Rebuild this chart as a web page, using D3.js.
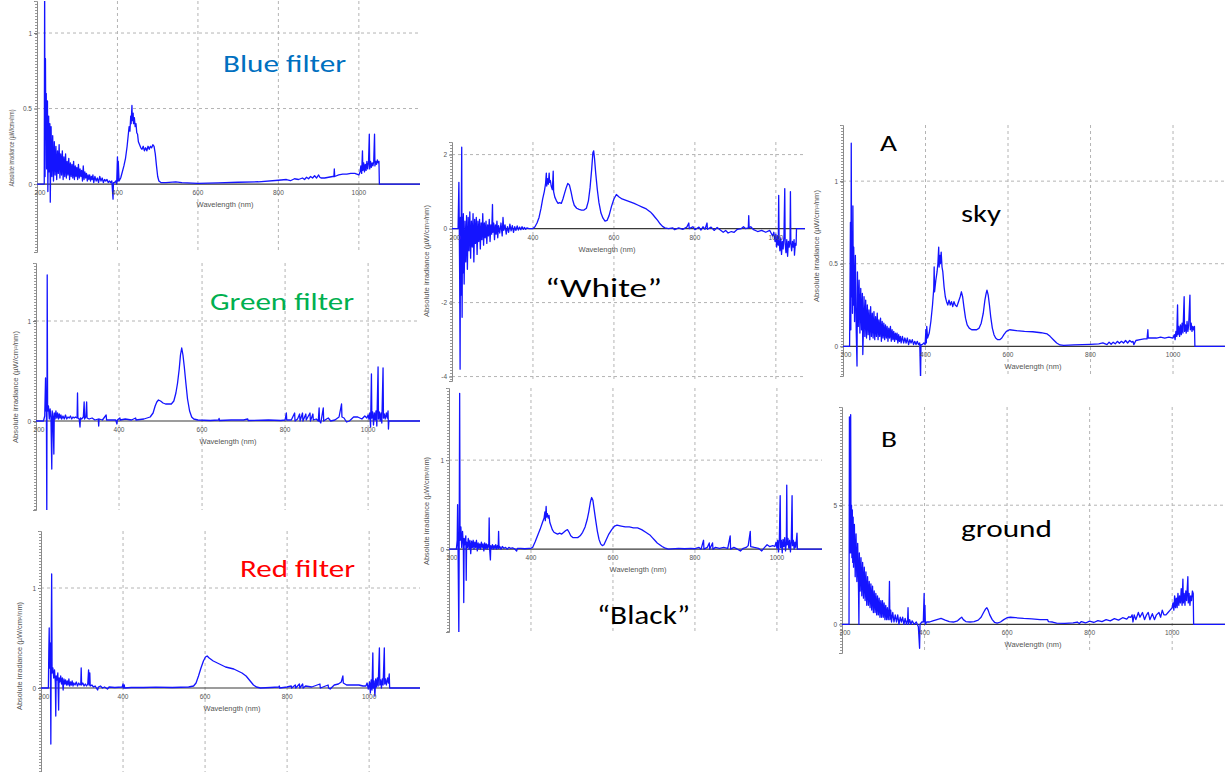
<!DOCTYPE html>
<html>
<head>
<meta charset="utf-8">
<script src="https://cdn.jsdelivr.net/npm/d3@7"></script>
<style>
html,body{margin:0;padding:0;background:#fff;}
svg{display:block;}
</style>
</head>
<body>
<script>
// ---------- DATA (wavelength nm, absolute irradiance) ----------
const blueFilter = [[200,0],[215,0],[218,0],[219,1.3],[220,0.05],[221,0.83],[222,0.3],[223,0.6],[224,0.1],[226,0.55],[227,-0.05],[229,0.45],[230,0.08],[232,0.4],[233,-0.12],[235,0.38],[237,0.05],[239,0.32],[241,0.02],[243,0.28],[245,0.06],[247,0.25],[249,0.03],[251,0.22],[253,0.07],[255,0.26],[257,0.04],[259,0.2],[261,0.06],[263,0.22],[265,0.03],[267,0.18],[269,0.05],[271,0.2],[273,0.04],[275,0.15],[277,0.06],[279,0.17],[281,0.03],[283,0.14],[285,0.05],[287,0.13],[289,0.04],[291,0.15],[293,0.03],[295,0.12],[297,0.05],[299,0.11],[301,0.03],[303,0.13],[305,0.04],[307,0.1],[309,0.05],[311,0.09],[313,0.02],[315,0.12],[317,0.03],[319,0.08],[321,0.04],[323,0.07],[325,0.02],[327,0.06],[329,0.03],[331,0.06],[333,0.02],[335,0.05],[337,0.03],[339,0.06],[341,0.01],[344,0.05],[347,0.02],[350,0.04],[353,0.01],[356,0.05],[359,0.02],[362,0.04],[365,0.01],[368,0.03],[371,0.02],[374,0.03],[377,0.01],[380,0.02],[383,0.01],[386,0.02],[389,-0.1],[390,0.01],[393,0.01],[396,0.02],[398,0.0],[400,0.18],[401,0.02],[402,0.15],[404,0.02],[408,0.04],[412,0.08],[416,0.12],[420,0.17],[424,0.25],[427,0.33],[429,0.38],[431,0.35],[433,0.45],[434,0.4],[436,0.52],[437,0.42],[439,0.47],[440,0.4],[442,0.44],[444,0.38],[446,0.4],[448,0.34],[450,0.33],[452,0.28],[455,0.26],[458,0.24],[461,0.23],[464,0.25],[467,0.22],[470,0.24],[473,0.22],[476,0.25],[479,0.23],[482,0.25],[485,0.24],[488,0.26],[491,0.25],[494,0.2],[497,0.12],[500,0.05],[503,0.02],[508,0.01],[520,0.01],[545,0.015],[560,0.01],[600,0.005],[650,0.008],[700,0.012],[750,0.015],[800,0.025],[820,0.03],[830,0.022],[840,0.035],[850,0.03],[860,0.04],[865,0.03],[870,0.045],[875,0.035],[880,0.05],[885,0.04],[890,0.055],[895,0.04],[900,0.06],[903,0.045],[906,0.04],[915,0.04],[925,0.045],[935,0.05],[938,0.05],[939,0.1],[940,0.05],[950,0.06],[960,0.065],[970,0.065],[980,0.07],[990,0.07],[1000,0.06],[1003,0.08],[1005,0.12],[1007,0.07],[1009,0.22],[1010,0.09],[1012,0.14],[1014,0.08],[1016,0.13],[1018,0.09],[1020,0.15],[1022,0.1],[1024,0.14],[1026,0.33],[1027,0.1],[1029,0.15],[1031,0.11],[1033,0.14],[1035,0.12],[1037,0.15],[1039,0.33],[1040,0.12],[1042,0.15],[1044,0.13],[1046,0.16],[1048,0.14],[1050,0.15],[1051,0],[1160,0]];

const greenFilter = [[200,0],[218,0],[221,0.05],[223,0.43],[224,0.1],[225,0.2],[226,-0.95],[227,1.46],[228,0.1],[230,0.15],[232,0.02],[234,0.12],[236,0.03],[238,-0.48],[239,0.1],[241,0.04],[243,-0.33],[244,0.08],[246,0.02],[248,0.1],[250,0.03],[252,0.08],[254,0.02],[256,0.07],[258,0.03],[260,0.06],[262,0.02],[265,0.05],[268,0.02],[271,0.06],[274,0.02],[277,0.04],[280,0.03],[283,0.05],[286,0.02],[289,0.04],[292,0.03],[295,0.04],[299,0.03],[300,0.28],[301,0.03],[304,0.02],[306,-0.06],[307,0.03],[310,0.02],[314,0.04],[316,0.19],[317,0.02],[320,0.04],[322,0.19],[323,0.03],[328,0.02],[335,0.03],[342,0.01],[350,0.02],[351,-0.05],[352,0.02],[360,0.01],[369,0.06],[370,0.01],[380,0.01],[392,0.01],[395,-0.03],[396,0.01],[402,0.03],[403,0.01],[415,0.02],[430,0.01],[440,0.03],[441,0.01],[460,0.02],[475,0.04],[482,0.08],[487,0.15],[491,0.19],[495,0.21],[500,0.2],[506,0.18],[512,0.17],[520,0.17],[526,0.17],[532,0.2],[537,0.28],[541,0.38],[545,0.52],[548,0.66],[551,0.73],[554,0.66],[557,0.55],[561,0.38],[565,0.22],[570,0.1],[575,0.04],[580,0.02],[590,0.01],[620,0.005],[640,0.01],[641,0.025],[642,0.005],[670,0.01],[700,0.01],[710,0.02],[711,0.005],[760,0.01],[790,0.005],[800,0.01],[803,0.08],[804,0.01],[815,0.01],[823,0.08],[824,0.0],[830,0.02],[835,0.07],[836,0.0],[842,0.08],[843,0.0],[850,0.07],[851,0.01],[860,0.08],[861,0.0],[867,0.07],[868,0.01],[875,0.02],[880,0.0],[882,0.13],[883,0.0],[886,-0.02],[892,0.13],[893,0.0],[900,0.02],[904,0.03],[910,0.0],[920,0.01],[930,0.04],[936,0.17],[937,0.04],[942,0.03],[948,-0.01],[955,0.0],[965,0.04],[975,0.04],[985,0.02],[992,0.05],[997,0.03],[1000,0.06],[1002,0.02],[1004,0.08],[1006,-0.06],[1008,0.47],[1009,0.03],[1011,0.09],[1013,-0.04],[1015,0.08],[1017,0.01],[1019,0.1],[1021,-0.05],[1024,0.54],[1025,0.02],[1027,0.09],[1029,0.0],[1031,0.08],[1033,-0.02],[1036,0.53],[1037,0.03],[1039,0.07],[1041,0.02],[1044,0.08],[1046,0.03],[1048,0.1],[1049,-0.08],[1050,0],[1130,0]];

const redFilter = [[200,0],[218,0],[219,0.35],[220,0.6],[221,0.2],[222,0.45],[223,0.25],[224,-0.56],[225,0.5],[226,1.14],[227,0.15],[229,0.2],[231,0.1],[233,0.18],[235,0.05],[236,-0.28],[237,0.12],[239,0.08],[241,0.15],[243,-0.22],[244,0.1],[246,0.06],[248,0.12],[250,0.04],[252,0.1],[254,-0.02],[256,0.09],[258,0.04],[260,0.08],[262,0.03],[264,0.07],[266,0.03],[268,0.09],[270,0.02],[272,0.06],[274,0.03],[276,0.07],[278,0.02],[280,0.05],[283,0.03],[286,0.06],[289,0.02],[292,0.05],[295,0.03],[297,0.04],[298,0.2],[299,0.03],[302,0.05],[305,0.02],[308,0.04],[311,0.02],[314,0.04],[316,0.18],[317,0.03],[319,0.15],[320,0.02],[324,0.03],[328,0.01],[332,0.02],[338,-0.02],[340,0.01],[345,0.02],[350,0.0],[355,0.01],[362,-0.01],[366,0.01],[380,0.005],[398,0.01],[400,0.04],[401,0.0],[403,0.03],[404,0.0],[420,0.005],[450,0.005],[480,0.008],[520,0.005],[560,0.01],[572,0.02],[578,0.05],[584,0.12],[590,0.2],[596,0.27],[601,0.31],[605,0.32],[610,0.3],[620,0.27],[630,0.25],[640,0.23],[650,0.21],[660,0.2],[670,0.19],[680,0.17],[690,0.15],[700,0.12],[706,0.09],[712,0.06],[718,0.03],[725,0.01],[735,0.0],[760,0.005],[780,0.01],[781,0.02],[782,0.0],[800,0.01],[810,0.02],[811,0.0],[820,0.03],[821,0.0],[830,0.04],[831,0.0],[838,0.04],[839,0.0],[845,0.02],[860,0.01],[880,0.04],[881,0.0],[900,0.03],[901,0.0],[905,-0.01],[915,0.03],[925,0.04],[932,0.06],[936,0.12],[937,0.05],[945,0.03],[960,0.03],[975,0.03],[985,0.02],[992,0.02],[995,0.05],[998,-0.01],[1001,0.06],[1003,-0.05],[1005,0.08],[1007,-0.02],[1009,0.35],[1010,0.0],[1012,0.07],[1014,-0.08],[1016,0.09],[1018,0.01],[1020,0.1],[1022,0.02],[1025,0.4],[1026,0.03],[1028,0.08],[1030,0.0],[1032,0.09],[1034,0.03],[1037,0.4],[1038,0.04],[1040,0.09],[1042,0.03],[1045,0.1],[1047,0.05],[1049,0.14],[1050,0],[1130,0]];

const whiteSample = [[200,0],[215,0],[217,1.25],[218,0.1],[219,-1.4],[220,-3.8],[221,0.3],[222,-1.8],[223,0.45],[224,2.2],[225,-2.4],[226,0.3],[227,-1.2],[228,0.4],[230,-1.5],[232,0.2],[234,-0.9],[236,0.35],[238,-1.1],[240,0.3],[242,-0.6],[244,0.45],[246,-0.8],[248,0.2],[250,-0.5],[252,0.4],[254,-0.9],[256,0.25],[258,-0.4],[260,0.3],[262,-0.7],[264,0.2],[266,-0.35],[268,0.25],[270,-0.55],[272,0.15],[274,-0.3],[276,0.4],[278,-0.45],[280,0.15],[282,-0.25],[284,0.2],[286,-0.4],[288,0.1],[290,-0.2],[292,0.25],[294,-0.35],[296,0.1],[298,-0.15],[300,0.65],[301,-0.1],[303,0.15],[305,-0.3],[307,0.1],[309,-0.15],[311,0.2],[313,-0.25],[315,0.08],[318,-0.12],[321,0.15],[324,-0.2],[326,0.3],[328,-0.05],[331,0.1],[334,-0.15],[337,0.05],[340,-0.1],[343,0.12],[346,-0.06],[349,0.08],[352,-0.1],[355,0.05],[358,-0.05],[361,0.07],[364,-0.04],[367,0.04],[370,-0.03],[373,0.05],[376,-0.02],[379,0.03],[382,-0.02],[385,0.02],[390,0.0],[400,0.0],[405,0.05],[410,0.15],[415,0.3],[420,0.55],[424,0.8],[428,1.0],[431,1.2],[433,1.5],[434,1.15],[436,1.35],[438,1.2],[440,1.5],[441,1.25],[443,1.3],[445,1.15],[448,1.05],[450,1.55],[451,1.0],[454,0.85],[458,0.75],[462,0.68],[466,0.7],[470,0.68],[474,0.8],[478,0.95],[482,1.1],[486,1.22],[490,1.18],[494,1.0],[498,0.78],[502,0.63],[508,0.55],[514,0.52],[520,0.5],[526,0.5],[532,0.55],[537,0.75],[541,1.1],[545,1.6],[548,2.05],[550,2.1],[552,1.9],[555,1.5],[559,1.05],[563,0.7],[568,0.42],[573,0.28],[578,0.2],[583,0.22],[588,0.35],[594,0.6],[600,0.8],[606,0.92],[612,0.86],[620,0.8],[630,0.76],[640,0.72],[650,0.68],[660,0.63],[670,0.58],[680,0.53],[690,0.45],[696,0.38],[702,0.3],[708,0.22],[714,0.13],[720,0.06],[726,0.02],[735,0.0],[745,0.02],[750,-0.03],[760,0.02],[770,-0.02],[780,0.04],[785,0.15],[786,0.0],[795,0.05],[800,-0.03],[810,0.04],[815,-0.04],[820,0.05],[825,-0.02],[830,0.15],[831,-0.02],[840,0.04],[848,-0.05],[855,0.03],[862,-0.03],[870,-0.1],[876,-0.05],[882,-0.12],[890,-0.08],[897,-0.1],[905,-0.02],[915,0.0],[920,0.05],[925,0.0],[932,0.02],[933,0.35],[934,0.02],[938,0.05],[945,-0.03],[955,-0.08],[965,-0.05],[975,-0.1],[985,-0.05],[992,-0.2],[995,-0.1],[998,-0.35],[1000,-0.15],[1002,-0.5],[1004,-0.2],[1006,-0.45],[1007,0.9],[1008,-0.3],[1010,-0.6],[1012,-0.25],[1014,-0.7],[1016,-0.35],[1018,-0.55],[1020,-0.2],[1022,1.08],[1023,-0.4],[1025,-0.65],[1027,-0.3],[1029,-0.75],[1031,-0.35],[1033,-0.5],[1035,-0.3],[1036,1.0],[1037,-0.4],[1039,-0.6],[1041,-0.35],[1043,-0.5],[1045,-0.3],[1046,-0.72],[1048,-0.4],[1050,-0.45],[1051,0],[1080,0]];

const blackSample = [[200,0],[218,0],[220,0.1],[221,0.5],[222,0.05],[224,-0.95],[225,0.3],[226,1.75],[227,0.1],[229,0.25],[231,0.02],[233,0.2],[235,0.05],[236,-0.6],[237,0.12],[239,0.05],[241,0.15],[242,-0.35],[243,0.08],[245,0.02],[247,0.12],[249,0.0],[251,0.1],[253,-0.05],[255,0.09],[257,0.02],[259,0.1],[261,0.0],[263,0.08],[265,0.02],[267,0.1],[269,-0.02],[271,0.07],[273,0.01],[275,0.06],[277,0.0],[279,0.08],[281,0.02],[283,0.06],[285,-0.02],[287,0.07],[289,0.01],[291,0.06],[293,0.0],[295,0.05],[297,0.02],[298,0.35],[299,0.01],[301,-0.12],[302,0.04],[304,0.01],[306,0.05],[308,0.0],[310,0.04],[312,0.01],[314,0.05],[316,0.0],[318,0.04],[320,0.01],[321,0.2],[322,0.01],[324,0.03],[327,0.0],[330,0.03],[334,0.01],[338,0.02],[342,0.0],[346,0.02],[350,0.01],[355,0.015],[360,0.005],[365,-0.02],[367,0.01],[375,0.01],[385,0.005],[395,0.01],[400,0.01],[404,0.02],[410,0.08],[416,0.15],[422,0.22],[428,0.3],[432,0.35],[434,0.42],[435,0.32],[437,0.48],[438,0.36],[440,0.4],[442,0.35],[444,0.38],[446,0.3],[449,0.26],[452,0.22],[456,0.19],[460,0.18],[465,0.17],[470,0.18],[475,0.17],[480,0.19],[485,0.21],[489,0.22],[493,0.19],[497,0.15],[502,0.13],[508,0.13],[514,0.13],[520,0.15],[526,0.19],[532,0.25],[537,0.33],[541,0.42],[545,0.53],[548,0.58],[551,0.55],[554,0.45],[558,0.32],[562,0.2],[566,0.11],[570,0.06],[574,0.04],[578,0.05],[583,0.1],[590,0.17],[597,0.22],[604,0.26],[610,0.27],[620,0.26],[630,0.25],[640,0.25],[650,0.24],[660,0.24],[670,0.22],[680,0.19],[690,0.16],[696,0.13],[702,0.1],[708,0.07],[714,0.05],[720,0.03],[726,0.015],[735,0.0],[760,0.01],[775,0.005],[790,0.01],[800,0.005],[810,0.02],[815,0.0],[821,0.1],[822,0.0],[830,0.02],[835,0.07],[836,0.0],[843,0.07],[844,0.0],[850,0.02],[860,0.01],[870,0.02],[880,0.01],[886,0.15],[887,0.0],[895,0.02],[900,0.01],[911,-0.02],[918,0.01],[925,0.02],[930,0.04],[935,0.2],[936,0.03],[945,0.02],[955,0.01],[963,-0.02],[970,0.02],[976,0.05],[982,0.03],[990,0.04],[995,0.03],[998,0.08],[1000,0.01],[1002,0.1],[1004,-0.03],[1006,0.12],[1008,0.6],[1009,0.02],[1011,0.1],[1013,-0.04],[1015,0.11],[1017,0.03],[1019,0.13],[1021,-0.02],[1023,0.08],[1024,0.72],[1025,0.05],[1027,0.12],[1029,0.01],[1031,0.1],[1033,-0.03],[1035,0.09],[1037,0.6],[1038,0.04],[1040,0.1],[1042,0.0],[1044,0.08],[1046,0.02],[1049,0.18],[1050,0],[1110,0]];

const skyA = [[200,0],[216,0],[218,0.75],[219,0.1],[220,1.23],[221,0.3],[222,0.65],[223,0.2],[224,0.85],[225,0.25],[226,0.6],[228,0.15],[230,0.55],[232,0.1],[234,-0.12],[235,0.45],[237,0.12],[239,0.4],[241,0.08],[243,0.35],[245,0.1],[247,0.32],[248,-0.05],[249,0.05],[251,0.3],[253,0.06],[255,0.28],[257,0.05],[259,0.25],[261,0.07],[263,0.22],[265,0.04],[267,0.24],[269,0.06],[271,0.2],[273,0.05],[275,0.21],[277,0.04],[279,0.18],[281,0.06],[283,0.2],[285,0.04],[287,0.16],[289,0.06],[291,0.17],[293,0.03],[295,0.15],[297,0.05],[299,0.14],[301,0.04],[303,0.13],[305,0.05],[307,0.12],[309,0.03],[311,0.11],[313,0.05],[315,0.12],[317,0.03],[319,0.1],[321,0.04],[323,0.09],[325,0.03],[327,0.08],[329,0.04],[331,0.08],[333,0.02],[335,0.07],[337,0.03],[339,0.06],[341,0.02],[344,0.06],[347,0.02],[350,0.05],[353,0.02],[356,0.05],[359,0.01],[362,0.04],[365,0.02],[368,0.04],[371,0.01],[374,0.03],[377,0.01],[380,0.03],[383,0.01],[386,0.02],[388,-0.2],[389,0.01],[392,0.01],[396,0.02],[399,0.01],[401,0.1],[402,0.02],[403,0.12],[405,0.05],[409,0.08],[413,0.15],[417,0.25],[420,0.35],[421,0.48],[422,0.33],[425,0.4],[428,0.45],[430,0.5],[432,0.6],[433,0.48],[435,0.55],[436,0.5],[438,0.57],[440,0.48],[442,0.45],[445,0.36],[448,0.3],[451,0.27],[454,0.25],[457,0.28],[460,0.25],[463,0.27],[466,0.24],[469,0.27],[472,0.25],[476,0.24],[480,0.27],[484,0.3],[487,0.33],[490,0.3],[493,0.24],[497,0.17],[501,0.13],[506,0.11],[512,0.1],[518,0.1],[524,0.1],[530,0.11],[535,0.14],[540,0.2],[544,0.28],[547,0.32],[549,0.34],[552,0.31],[555,0.25],[558,0.18],[562,0.11],[566,0.07],[570,0.05],[575,0.04],[580,0.04],[585,0.05],[590,0.07],[596,0.09],[604,0.1],[620,0.095],[640,0.09],[660,0.088],[680,0.082],[695,0.075],[702,0.06],[710,0.04],[718,0.02],[726,0.008],[735,0.005],[760,0.008],[780,0.01],[800,0.012],[820,0.015],[830,0.02],[840,0.01],[845,0.025],[850,0.012],[855,0.025],[860,0.015],[865,0.03],[870,0.018],[875,0.03],[880,0.02],[885,0.035],[890,0.02],[895,0.035],[900,0.025],[903,0.03],[905,0.01],[910,0.035],[920,0.04],[930,0.045],[937,0.045],[939,0.1],[940,0.05],[950,0.05],[960,0.05],[970,0.055],[980,0.05],[990,0.055],[1000,0.05],[1003,0.07],[1005,0.04],[1007,0.09],[1009,0.06],[1011,0.25],[1012,0.07],[1014,0.12],[1016,0.06],[1018,0.13],[1020,0.07],[1022,0.14],[1024,0.08],[1027,0.3],[1028,0.09],[1030,0.13],[1032,0.08],[1034,0.15],[1036,0.09],[1038,0.13],[1041,0.31],[1042,0.1],[1044,0.14],[1046,0.09],[1048,0.12],[1050,0.1],[1052,0.12],[1053,0],[1130,0]];

const groundB = [[200,0],[217,0],[218,0.87],[219,0.3],[220,0.6],[221,0.88],[222,0.3],[223,0.5],[224,0.28],[225,0.48],[226,0.26],[227,0.45],[228,0.24],[230,0.42],[232,0.2],[234,0.38],[236,0.18],[238,0.34],[240,0.15],[241,0.0],[242,0.3],[244,0.14],[246,0.28],[248,0.12],[250,0.26],[252,0.11],[254,0.24],[256,0.1],[258,0.22],[260,0.08],[262,0.2],[264,0.08],[266,0.18],[268,0.07],[270,0.17],[272,0.06],[274,0.16],[276,0.05],[278,0.14],[280,0.05],[282,0.13],[284,0.04],[286,0.12],[288,0.04],[290,0.11],[292,0.03],[294,0.1],[296,0.03],[298,0.1],[300,0.03],[302,0.09],[304,0.02],[306,0.08],[308,0.02],[310,0.07],[312,0.02],[314,0.07],[315,0.18],[316,0.02],[318,0.06],[320,0.01],[323,0.05],[326,0.01],[329,0.04],[332,0.01],[335,0.04],[338,0.0],[341,0.03],[344,0.01],[347,0.03],[350,0.0],[353,0.025],[356,0.0],[359,0.02],[360,0.07],[361,0.0],[364,0.02],[367,0.0],[370,0.015],[375,0.0],[380,0.01],[385,-0.01],[388,-0.1],[389,0.0],[393,0.01],[397,0.01],[399,0.13],[400,0.01],[401,0.08],[402,0.0],[405,0.01],[412,0.01],[420,0.015],[430,0.02],[440,0.025],[450,0.018],[460,0.012],[470,0.01],[480,0.015],[486,0.025],[490,0.03],[494,0.02],[500,0.012],[510,0.01],[520,0.012],[530,0.018],[537,0.03],[543,0.05],[548,0.065],[551,0.07],[554,0.06],[558,0.04],[564,0.02],[570,0.008],[576,0.005],[584,0.01],[592,0.02],[600,0.028],[608,0.03],[620,0.028],[640,0.025],[660,0.023],[680,0.02],[698,0.02],[700,0.012],[710,0.01],[720,0.005],[740,0.004],[760,0.006],[770,0.01],[775,0.004],[780,0.012],[790,0.006],[800,0.014],[810,0.008],[820,0.016],[830,0.012],[840,0.02],[850,0.015],[860,0.024],[870,0.018],[880,0.028],[890,0.022],[895,0.032],[900,0.03],[903,0.04],[905,0.01],[908,0.04],[912,0.02],[918,0.05],[922,0.03],[928,0.05],[933,0.02],[938,0.04],[942,0.05],[946,0.02],[952,0.045],[957,0.02],[962,0.04],[968,0.05],[972,0.03],[976,0.06],[980,0.04],[985,0.04],[990,0.05],[995,0.06],[1000,0.07],[1002,0.09],[1004,0.06],[1006,0.12],[1008,0.07],[1010,0.11],[1012,0.07],[1014,0.13],[1016,0.08],[1018,0.12],[1020,0.09],[1022,0.15],[1024,0.08],[1026,0.19],[1027,0.09],[1029,0.13],[1031,0.08],[1033,0.14],[1035,0.1],[1038,0.2],[1039,0.09],[1041,0.13],[1043,0.08],[1045,0.12],[1047,0.1],[1049,0.14],[1051,0.13],[1052,0],[1150,0]];

// tick values and labels
const xTicks = [200, 400, 600, 800, 1000];
const xTickLabels = ["200", "400", "600", "800", "1000"];
const blueYTicks = [0, 0.5, 1],  blueYLabels = ["0", "0.5", "1"];
const greenYTicks = [0, 1],      greenYLabels = ["0", "1"];
const redYTicks = [0, 1],        redYLabels = ["0", "1"];
const whiteYTicks = [-4, -2, 0, 2], whiteYLabels = ["-4", "-2", "0", "2"];
const blackYTicks = [0, 1],      blackYLabels = ["0", "1"];
const skyYTicks = [0, 0.5, 1],   skyYLabels = ["0", "0.5", "1"];
const groundYTicks = [0, 0.5],   groundYLabels = ["0", "5"];

const xTitle = "Wavelength (nm)";
const yTitle = "Absolute irradiance (µW/cm²/nm)";

// ---------- LAYOUT ----------
const panels = [
  {data: blueFilter,  xr:[37,420],  xd:[200,1152], yr:[252,1],   yd:[-0.45,1.212], ticks:blueYTicks,  labels:blueYLabels,  xlab:225, tx:12,  ty:148, tl:77},
  {data: greenFilter, xr:[36,420],  xd:[200,1125], yr:[510,263], yd:[-0.89,1.58],  ticks:greenYTicks, labels:greenYLabels, xlab:228, tx:16,  ty:387, tl:112},
  {data: redFilter,   xr:[41,420],  xd:[200,1124], yr:[772,531], yd:[-0.84,1.57],  ticks:redYTicks,   labels:redYLabels,   xlab:232, tx:20,  ty:656, tl:108},
  {data: whiteSample, xr:[452,805], xd:[200,1072], yr:[381,142], yd:[-4.12,2.34],  ticks:whiteYTicks, labels:whiteYLabels, xlab:607, tx:427, ty:261, tl:112},
  {data: blackSample, xr:[449,822], xd:[200,1110], yr:[632,388], yd:[-0.93,1.81],  ticks:blackYTicks, labels:blackYLabels, xlab:638, tx:427, ty:511, tl:108},
  {data: skyA,        xr:[843,1225],xd:[200,1126], yr:[376,125], yd:[-0.18,1.34],  ticks:skyYTicks,   labels:skyYLabels,   xlab:1033,tx:817, ty:246, tl:112},
  {data: groundB,     xr:[842,1225],xd:[200,1128], yr:[653,407], yd:[-0.12,0.912], ticks:groundYTicks,labels:groundYLabels,xlab:1033,tx:null,ty:0,  tl:0}
];

const svg = d3.select("body").append("svg").attr("width", 1225).attr("height", 772);
const defs = svg.append("defs");
const gridColor = "#b4b4b4";
const lineColor = "#1414ff";

panels.forEach((p, i) => {
  const xs = d3.scaleLinear().domain(p.xd).range(p.xr);
  const ys = d3.scaleLinear().domain(p.yd).range(p.yr);
  const g = svg.append("g");
  const top = p.yr[1], bot = p.yr[0], left = p.xr[0], right = p.xr[1];

  defs.append("clipPath").attr("id", "clip" + i)
    .append("rect").attr("x", left).attr("y", top).attr("width", right - left).attr("height", bot - top);

  // vertical grid
  g.selectAll(".vg").data(xTicks.filter(t => t > 200)).join("line")
    .attr("x1", d => xs(d)).attr("x2", d => xs(d)).attr("y1", top).attr("y2", bot)
    .attr("stroke", gridColor).attr("stroke-width", 1).attr("stroke-dasharray", "3,3");
  // horizontal grid
  g.selectAll(".hg").data(p.ticks.filter(t => t !== 0)).join("line")
    .attr("x1", left).attr("x2", right).attr("y1", d => ys(d)).attr("y2", d => ys(d))
    .attr("stroke", gridColor).attr("stroke-width", 1).attr("stroke-dasharray", "3,3");
  // zero line
  g.append("line").attr("x1", left).attr("x2", right).attr("y1", ys(0)).attr("y2", ys(0))
    .attr("stroke", "#3a3a3a").attr("stroke-width", 1.2);

  // y axis
  const ax = g.append("g").attr("transform", `translate(${left},0)`)
    .call(d3.axisLeft(ys).tickValues(p.ticks).tickFormat((d, k) => p.labels[k]).tickSize(3).tickPadding(2));
  ax.select(".domain").attr("stroke", "#8a8a8a").attr("stroke-width", 1);
  ax.selectAll(".tick line").attr("stroke", "#777");
  ax.selectAll(".tick text").attr("font-size", "6.5px").attr("fill", "#555").attr("font-family", "Liberation Sans, Arial, sans-serif");
  // minor ticks look (dense ruler)
  g.append("line").attr("x1", left - 1).attr("x2", left - 1).attr("y1", top).attr("y2", bot)
    .attr("stroke", "#9a9a9a").attr("stroke-width", 2).attr("stroke-dasharray", "1,2");

  // spectrum
  const line = d3.line().x(d => xs(d[0])).y(d => ys(d[1]));
  g.append("path").datum(p.data).attr("d", line)
    .attr("fill", "none").attr("stroke", lineColor).attr("stroke-width", 1.3)
    .attr("stroke-linejoin", "round").attr("clip-path", `url(#clip${i})`);

  // x tick labels
  g.selectAll(".xl").data(xTicks).join("text")
    .attr("x", (d) => xs(d) + (d === 200 ? 3 : 0)).attr("y", ys(0) + 11)
    .attr("text-anchor", "middle").attr("font-size", "6.5px").attr("fill", "#555")
    .attr("font-family", "Liberation Sans, Arial, sans-serif")
    .text((d, k) => xTickLabels[k]);
  // x title
  g.append("text").attr("x", p.xlab).attr("y", ys(0) + 23).attr("text-anchor", "middle")
    .attr("font-size", "7.5px").attr("fill", "#555").attr("font-family", "Liberation Sans, Arial, sans-serif")
    .text(xTitle);
  // y title
  if (p.tx !== null) {
    g.append("text").attr("transform", `translate(${p.tx},${p.ty}) rotate(-90)`)
      .attr("text-anchor", "middle").attr("dominant-baseline", "middle")
      .attr("font-size", "6.5px").attr("fill", "#555").attr("font-family", "Liberation Sans, Arial, sans-serif")
      .attr("textLength", p.tl).attr("lengthAdjust", "spacingAndGlyphs")
      .text(yTitle);
  }
});

// ---------- ANNOTATIONS ----------
const notes = [
  {t: "Blue filter",  x: 223, y: 72,  c: "#0070C0", s: 25, w: 123},
  {t: "Green filter", x: 210, y: 310, c: "#00B050", s: 25, w: 144},
  {t: "Red filter",   x: 240, y: 577, c: "#FF0000", s: 25, w: 115},
  {t: "“White”",      x: 545, y: 297, c: "#000",    s: 27, w: 117},
  {t: "“Black”",      x: 597, y: 624, c: "#000",    s: 27, w: 93},
  {t: "A",            x: 880, y: 151, c: "#000",    s: 23, w: 17},
  {t: "sky",          x: 961, y: 222, c: "#000",    s: 25, w: 40},
  {t: "B",            x: 881, y: 447, c: "#000",    s: 23, w: 16},
  {t: "ground",       x: 961, y: 537, c: "#000",    s: 25, w: 91}
];
svg.selectAll(".note").data(notes).join("text")
  .attr("x", d => d.x).attr("y", d => d.y)
  .attr("fill", d => d.c).attr("font-size", d => d.s + "px")
  .attr("font-family", "Carlito, Calibri, Lato, 'Open Sans', sans-serif")
  .attr("textLength", d => d.w).attr("lengthAdjust", "spacingAndGlyphs")
  .text(d => d.t);
</script>
</body>
</html>
